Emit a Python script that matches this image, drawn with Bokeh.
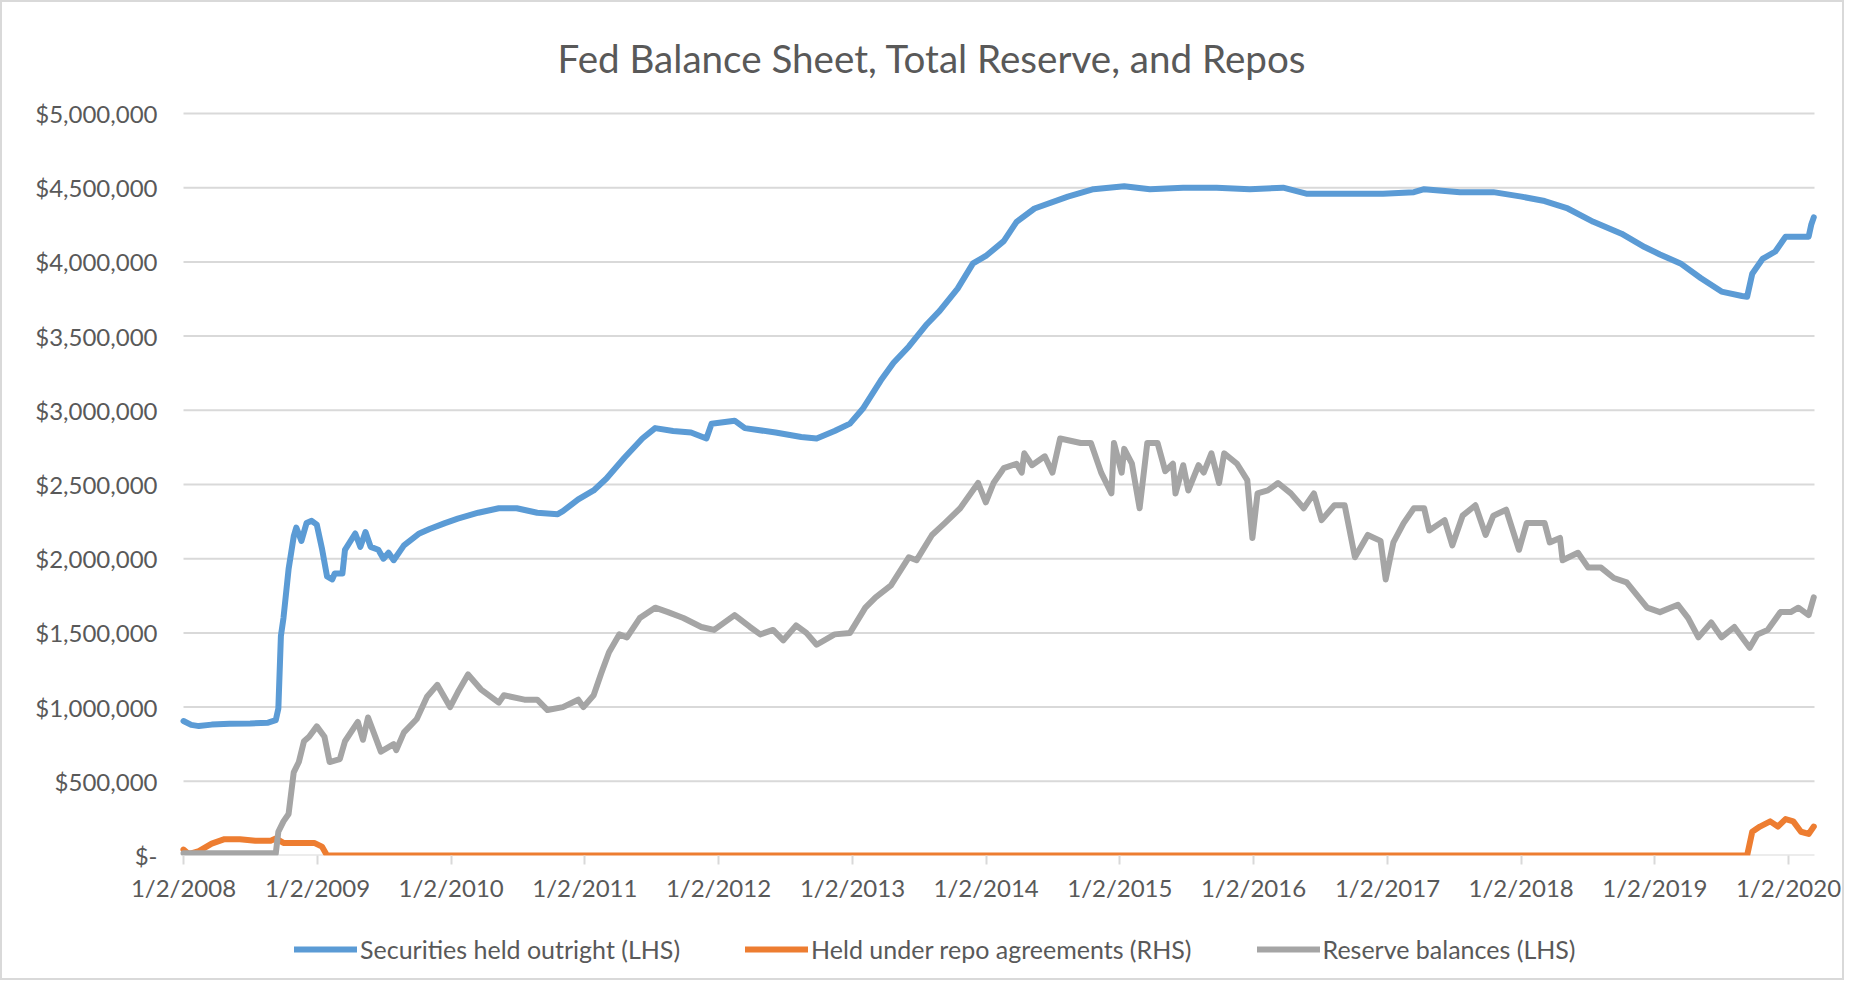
import pandas as pd
from bokeh.plotting import figure
from bokeh.models import FixedTicker, Range1d, Legend, LegendItem, ColumnDataSource, BoxAnnotation
from bokeh.embed import file_html
from bokeh.resources import INLINE

TITLE = "Fed Balance Sheet, Total Reserve, and Repos"
NAMES = ["Securities held outright (LHS)", "Held under repo agreements (RHS)", "Reserve balances (LHS)"]
COLORS = ["#5B9BD5", "#ED7D31", "#A5A5A5"]

XTICK_LABELS = ["1/2/2008", "1/2/2009", "1/2/2010", "1/2/2011", "1/2/2012", "1/2/2013", "1/2/2014",
                "1/2/2015", "1/2/2016", "1/2/2017", "1/2/2018", "1/2/2019", "1/2/2020"]
YTICK_VALUES = [0, 500000, 1000000, 1500000, 2000000, 2500000, 3000000, 3500000, 4000000, 4500000, 5000000]
YTICK_LABELS = ["$-", "$500,000", "$1,000,000", "$1,500,000", "$2,000,000", "$2,500,000", "$3,000,000",
                "$3,500,000", "$4,000,000", "$4,500,000", "$5,000,000"]
X_START = "2008-01-02"
X_END = "2020-03-13"

# Securities held outright ($ millions)
SEC_DATES = ["2008-01-02", "2008-01-23", "2008-02-13", "2008-03-19", "2008-05-07", "2008-07-02", "2008-08-20",
             "2008-09-10", "2008-09-17", "2008-09-24", "2008-10-01", "2008-10-15", "2008-10-29", "2008-11-05",
             "2008-11-19", "2008-12-03", "2008-12-17", "2008-12-31", "2009-01-14", "2009-01-28", "2009-02-11",
             "2009-02-18", "2009-03-11", "2009-03-18", "2009-04-15", "2009-04-29", "2009-05-13", "2009-05-27",
             "2009-06-17", "2009-07-01", "2009-07-15", "2009-07-29", "2009-08-26", "2009-09-16", "2009-10-07",
             "2009-11-04", "2009-12-16", "2010-01-20", "2010-03-17", "2010-05-12", "2010-06-30", "2010-08-25",
             "2010-10-20", "2010-11-03", "2010-12-15", "2011-01-05", "2011-01-26", "2011-03-02", "2011-04-20",
             "2011-06-08", "2011-07-13", "2011-08-31", "2011-10-19", "2011-11-30", "2011-12-14", "2012-02-15",
             "2012-03-14", "2012-06-06", "2012-08-15", "2012-09-26", "2012-11-14", "2012-12-26", "2013-01-30",
             "2013-03-20", "2013-04-24", "2013-06-05", "2013-07-24", "2013-08-28", "2013-10-16", "2013-11-27",
             "2014-01-01", "2014-02-19", "2014-03-26", "2014-05-14", "2014-08-13", "2014-10-22", "2015-01-14",
             "2015-03-25", "2015-06-24", "2015-09-23", "2015-12-23", "2016-03-23", "2016-05-25", "2016-09-21",
             "2016-12-21", "2017-03-15", "2017-04-12", "2017-07-19", "2017-10-18", "2018-01-03", "2018-03-07",
             "2018-05-09", "2018-07-18", "2018-10-03", "2018-12-05", "2019-01-16", "2019-03-13", "2019-05-08",
             "2019-07-03", "2019-08-28", "2019-09-11", "2019-09-25", "2019-10-23", "2019-11-27", "2019-12-25",
             "2020-01-22", "2020-02-26", "2020-03-04", "2020-03-11"]
SEC_VALUES = [906000, 880000, 872000, 882000, 888000, 890000, 895000,
              912000, 990000, 1480000, 1600000, 1930000, 2150000, 2210000,
              2120000, 2240000, 2255000, 2230000, 2070000, 1880000, 1860000,
              1900000, 1900000, 2060000, 2170000, 2080000, 2180000, 2080000,
              2060000, 2000000, 2040000, 1990000, 2090000, 2130000, 2170000,
              2200000, 2240000, 2270000, 2310000, 2340000, 2340000, 2310000,
              2300000, 2320000, 2400000, 2430000, 2460000, 2540000, 2680000,
              2810000, 2880000, 2860000, 2850000, 2810000, 2910000, 2930000,
              2880000, 2850000, 2820000, 2810000, 2860000, 2910000, 3010000,
              3200000, 3320000, 3430000, 3580000, 3670000, 3820000, 3990000,
              4040000, 4140000, 4270000, 4360000, 4440000, 4490000, 4510000,
              4490000, 4500000, 4500000, 4490000, 4500000, 4460000, 4460000,
              4460000, 4470000, 4490000, 4470000, 4470000, 4440000, 4410000,
              4360000, 4270000, 4190000, 4100000, 4050000, 3990000, 3890000,
              3800000, 3770000, 3765000, 3920000, 4020000, 4070000, 4170000,
              4170000, 4170000, 4250000, 4300000]

# Held under repo agreements ($ millions)
REPO_DATES = ["2008-01-02", "2008-01-16", "2008-02-13", "2008-03-19", "2008-04-23", "2008-06-04", "2008-07-16",
              "2008-08-27", "2008-09-10", "2008-10-01", "2008-12-24", "2009-01-14", "2009-01-28", "2019-09-11",
              "2019-09-25", "2019-10-16", "2019-11-13", "2019-12-04", "2019-12-25", "2020-01-15", "2020-02-05",
              "2020-02-26", "2020-03-11"]
REPO_VALUES = [40000, 10000, 30000, 80000, 110000, 110000, 100000,
               100000, 115000, 85000, 85000, 60000, 0, 0,
               160000, 195000, 230000, 195000, 245000, 230000, 160000,
               145000, 195000]

# Reserve balances ($ millions)
RES_DATES = ["2008-01-02", "2008-09-10", "2008-09-17", "2008-10-01", "2008-10-15", "2008-10-29", "2008-11-12",
             "2008-11-26", "2008-12-10", "2008-12-31", "2009-01-21", "2009-02-04", "2009-03-04", "2009-03-18",
             "2009-04-22", "2009-05-06", "2009-05-20", "2009-06-24", "2009-07-29", "2009-08-05", "2009-08-26",
             "2009-09-30", "2009-10-28", "2009-11-25", "2009-12-30", "2010-01-20", "2010-02-17", "2010-03-24",
             "2010-05-12", "2010-05-26", "2010-07-21", "2010-08-25", "2010-09-22", "2010-11-03", "2010-12-15",
             "2010-12-29", "2011-01-26", "2011-02-16", "2011-03-09", "2011-04-06", "2011-04-27", "2011-06-01",
             "2011-07-13", "2011-08-17", "2011-09-28", "2011-11-16", "2011-12-21", "2012-02-15", "2012-03-28",
             "2012-04-25", "2012-05-30", "2012-06-27", "2012-08-01", "2012-08-29", "2012-09-26", "2012-11-14",
             "2012-12-26", "2013-02-06", "2013-03-06", "2013-04-17", "2013-06-05", "2013-06-26", "2013-08-07",
             "2013-09-11", "2013-10-23", "2013-12-11", "2014-01-01", "2014-01-22", "2014-02-19", "2014-03-26",
             "2014-04-09", "2014-04-16", "2014-05-07", "2014-06-11", "2014-07-02", "2014-07-23", "2014-09-17",
             "2014-10-15", "2014-11-12", "2014-12-10", "2014-12-17", "2015-01-07", "2015-01-14", "2015-02-04",
             "2015-02-25", "2015-03-18", "2015-04-15", "2015-05-06", "2015-05-27", "2015-06-03", "2015-06-24",
             "2015-07-08", "2015-08-05", "2015-08-19", "2015-09-09", "2015-09-30", "2015-10-14", "2015-11-18",
             "2015-12-16", "2015-12-30", "2016-01-13", "2016-02-10", "2016-03-09", "2016-04-13", "2016-05-18",
             "2016-06-15", "2016-07-06", "2016-08-10", "2016-09-07", "2016-10-05", "2016-11-09", "2016-12-14",
             "2016-12-28", "2017-01-18", "2017-02-15", "2017-03-15", "2017-04-12", "2017-04-26", "2017-06-07",
             "2017-06-28", "2017-07-26", "2017-08-30", "2017-09-27", "2017-10-18", "2017-11-22", "2017-12-27",
             "2018-01-17", "2018-03-07", "2018-03-21", "2018-04-18", "2018-04-25", "2018-06-06", "2018-07-04",
             "2018-08-08", "2018-09-12", "2018-10-17", "2018-12-12", "2019-01-16", "2019-03-06", "2019-04-03",
             "2019-05-01", "2019-06-05", "2019-07-03", "2019-08-07", "2019-09-18", "2019-10-09", "2019-11-06",
             "2019-12-11", "2020-01-08", "2020-01-29", "2020-02-26", "2020-03-11"]
RES_VALUES = [15000, 15000, 160000, 230000, 280000, 560000, 630000,
              770000, 800000, 870000, 800000, 630000, 650000, 770000,
              900000, 780000, 930000, 700000, 750000, 710000, 830000,
              920000, 1070000, 1150000, 1000000, 1100000, 1220000, 1120000,
              1030000, 1080000, 1050000, 1050000, 980000, 1000000, 1050000,
              1000000, 1080000, 1230000, 1370000, 1490000, 1470000, 1600000,
              1670000, 1640000, 1600000, 1540000, 1520000, 1620000, 1540000,
              1490000, 1520000, 1450000, 1550000, 1500000, 1420000, 1490000,
              1500000, 1670000, 1740000, 1820000, 2010000, 1990000, 2160000,
              2240000, 2340000, 2510000, 2380000, 2510000, 2610000, 2640000,
              2580000, 2710000, 2630000, 2690000, 2580000, 2810000, 2780000,
              2780000, 2580000, 2440000, 2780000, 2580000, 2740000, 2640000,
              2340000, 2780000, 2780000, 2590000, 2640000, 2440000, 2630000,
              2460000, 2630000, 2580000, 2710000, 2510000, 2710000, 2640000,
              2530000, 2140000, 2440000, 2460000, 2510000, 2440000, 2340000,
              2440000, 2260000, 2360000, 2360000, 2010000, 2160000, 2120000,
              1860000, 2110000, 2240000, 2340000, 2340000, 2190000, 2260000,
              2090000, 2290000, 2360000, 2160000, 2290000, 2330000, 2060000,
              2240000, 2240000, 2110000, 2140000, 1990000, 2040000, 1940000,
              1940000, 1870000, 1840000, 1670000, 1640000, 1690000, 1600000,
              1470000, 1570000, 1470000, 1540000, 1400000, 1490000, 1520000,
              1640000, 1640000, 1670000, 1620000, 1740000]

FONT = "Lato"
TEXT_COLOR = "#595959"
GRID_COLOR = "#d9d9d9"


def ms(ts):
    return int(pd.Timestamp(ts).value // 10**6)


# ---- layout (figure pixels; page = figure + 8) ----
FIG_W, FIG_H = 1844, 980
BORDER_L, BORDER_R, BORDER_T, BORDER_B = 2, 2, 92, 2
PLOT_X0, PLOT_X1 = 181, 1812      # pixel of X_START / X_END
ZERO_PX, TOP_PX = 853, 111        # pixel of $0 line / $5,000,000 line
frame_x0, frame_x1 = BORDER_L, FIG_W - BORDER_R
frame_y0, frame_y1 = BORDER_T, FIG_H - BORDER_B

t0, t1 = ms(X_START), ms(X_END)
ms_per_px = (t1 - t0) / (PLOT_X1 - PLOT_X0)
x_lo = t0 - (PLOT_X0 - frame_x0) * ms_per_px
x_hi = t1 + (frame_x1 - PLOT_X1) * ms_per_px
u_per_px = (YTICK_VALUES[-1] - YTICK_VALUES[0]) / (ZERO_PX - TOP_PX)
y_hi = YTICK_VALUES[-1] + (TOP_PX - frame_y0) * u_per_px
y_lo = -(frame_y1 - ZERO_PX) * u_per_px

p = figure(width=FIG_W, height=FIG_H, x_axis_type="datetime", output_backend="svg", toolbar_location=None,
           x_range=Range1d(x_lo, x_hi), y_range=Range1d(y_lo, y_hi),
           min_border_left=BORDER_L, min_border_right=BORDER_R,
           min_border_top=BORDER_T, min_border_bottom=BORDER_B)
p.background_fill_color = "white"
p.border_fill_color = "white"
p.outline_line_color = None
p.styles = {"border": "2px solid #d9d9d9"}

p.title.text = TITLE
p.title.align = "left"
p.title.offset = 553
p.title.text_font = FONT
p.title.text_font_size = "38.6px"
p.title.text_font_style = "normal"
p.title.text_color = TEXT_COLOR
p.title.standoff = 28

# horizontal gridlines (the $0 one doubles as the category axis line), spanning the date range only
p.segment(x0=[pd.Timestamp(X_START)] * len(YTICK_VALUES), x1=[pd.Timestamp(X_END)] * len(YTICK_VALUES),
          y0=YTICK_VALUES, y1=YTICK_VALUES, line_color=GRID_COLOR, line_width=2, level="underlay")

series = [(SEC_DATES, SEC_VALUES), (REPO_DATES, REPO_VALUES), (RES_DATES, RES_VALUES)]
renderers = []
for (d, v), c in zip(series, COLORS):
    src = ColumnDataSource(dict(x=pd.to_datetime(d), y=v))
    r = p.line("x", "y", source=src, line_color=c, line_width=6, line_join="round", line_cap="round")
    renderers.append(r)

# plot-area clipping at the $0 baseline (as in the original chart)
p.add_layout(BoxAnnotation(top=0, fill_color="white", fill_alpha=1.0, line_color=None, level="glyph"))

xt = [ms(pd.to_datetime(lbl, format="%m/%d/%Y")) for lbl in XTICK_LABELS]
p.xaxis.fixed_location = 0
p.xaxis.bounds = (t0, t1)
p.xaxis.ticker = FixedTicker(ticks=xt)
p.xaxis.major_label_overrides = {t: lbl for t, lbl in zip(xt, XTICK_LABELS)}
p.xaxis.axis_line_color = None
p.xaxis.major_tick_line_color = GRID_COLOR
p.xaxis.major_tick_line_width = 2
p.xaxis.major_tick_in = 0
p.xaxis.major_tick_out = 9
p.xaxis.minor_tick_line_color = None
p.xaxis.major_label_standoff = 8
p.xaxis.major_label_text_font = FONT
p.xaxis.major_label_text_font_size = "24px"
p.xaxis.major_label_text_color = TEXT_COLOR

p.yaxis.fixed_location = t0
p.yaxis.ticker = FixedTicker(ticks=YTICK_VALUES)
p.yaxis.major_label_overrides = {v: l for v, l in zip(YTICK_VALUES, YTICK_LABELS)}
p.yaxis.axis_line_color = None
p.yaxis.major_tick_line_color = None
p.yaxis.minor_tick_line_color = None
p.yaxis.major_tick_out = 0
p.yaxis.major_label_standoff = 26
p.yaxis.major_label_text_font = FONT
p.yaxis.major_label_text_font_size = "24px"
p.yaxis.major_label_text_color = TEXT_COLOR

p.xgrid.grid_line_color = None
p.ygrid.grid_line_color = None

legend = Legend(items=[LegendItem(label=n, renderers=[r]) for n, r in zip(NAMES, renderers)],
                orientation="horizontal", location=(290, 16),
                glyph_width=63, glyph_height=20, label_standoff=3, spacing=65,
                label_text_font=FONT, label_text_font_size="25px", label_text_color=TEXT_COLOR,
                border_line_color=None, background_fill_alpha=0, margin=0, padding=4)
p.add_layout(legend, "center")

open("out.html", "w").write(file_html(p, INLINE))
